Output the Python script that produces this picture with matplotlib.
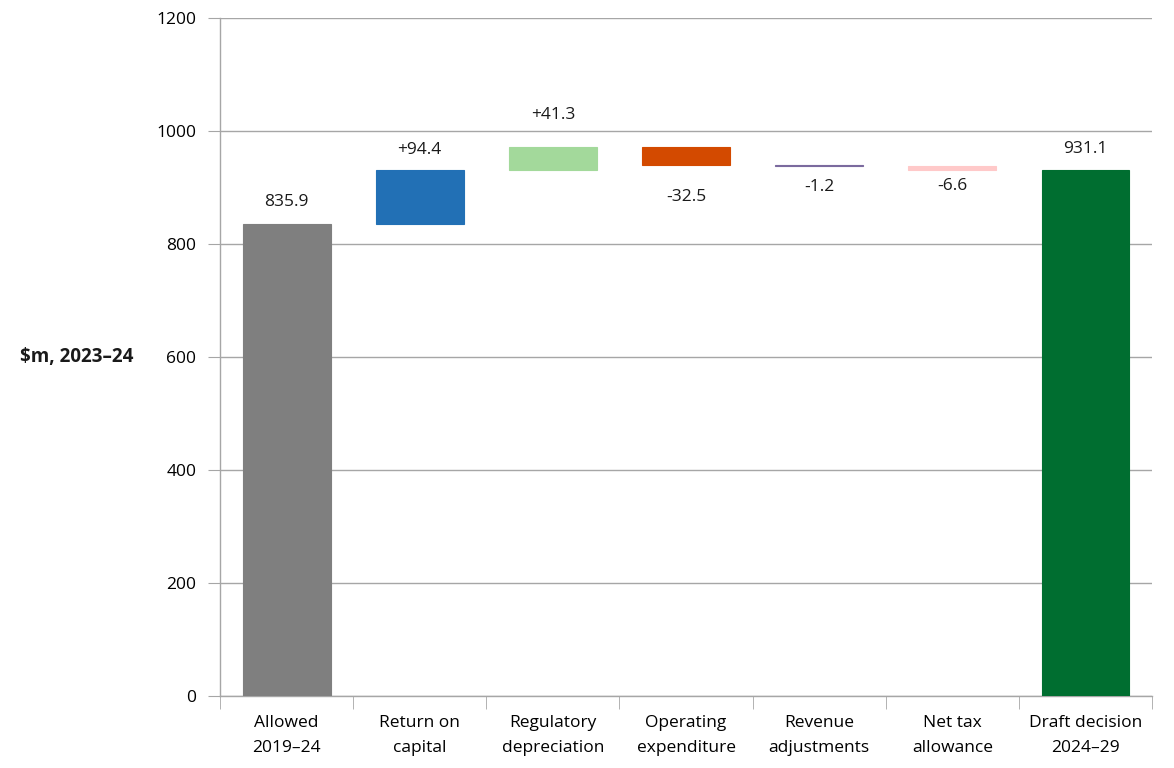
import numpy as np
import matplotlib
matplotlib.use("Agg")
import matplotlib.pyplot as plt

# Waterfall data ($m, 2023-24)
categories = ["Allowed\n2019–24", "Return on\ncapital", "Regulatory\ndepreciation",
              "Operating\nexpenditure", "Revenue\nadjustments", "Net tax\nallowance",
              "Draft decision\n2024–29"]
start_value = 835.9
changes = [94.4, 41.3, -32.5, -1.2, -6.6]
end_value = 931.1
labels = ["835.9", "+94.4", "+41.3", "-32.5", "-1.2", "-6.6", "931.1"]
colors = ["#7f7f7f", "#2270b5", "#a3d99b", "#d34a00", "#7b6a9e", "#ffc9c9", "#006e30"]
# label offsets in points (roughly as placed in the original)
label_offsets = [10, 9, 17, -17, -9, -6, 9]

plt.rcParams["font.family"] = ["Open Sans", "DejaVu Sans"]

# Build bottoms and heights for the floating bars
bottoms = [0]
heights = [start_value]
running = start_value
for c in changes:
    bottoms.append(running + min(c, 0))
    heights.append(abs(c))
    running += c
bottoms.append(0)
heights.append(end_value)
signs = [1] + [1 if c >= 0 else -1 for c in changes] + [1]

fig = plt.figure(figsize=(11.74, 7.68), dpi=100)
ax = fig.add_axes([0.1874, 0.09375, 0.7939, 0.8829])

x = np.arange(len(categories))
ax.bar(x, heights, bottom=bottoms, width=0.66, color=colors, edgecolor=colors,
       linewidth=0.8, zorder=3)

# Value labels: above for rises and totals, below for falls
for i in range(len(x)):
    if signs[i] > 0:
        y = bottoms[i] + heights[i]
        va = "bottom"
    else:
        y = bottoms[i]
        va = "top"
    ax.annotate(labels[i], (x[i], y), xytext=(0, label_offsets[i]), textcoords="offset points",
                ha="center", va=va, fontsize=12.5, color="#1a1a1a")

ax.set_xlim(-0.5, len(categories) - 0.5)
ax.set_ylim(0, 1200)
ax.set_yticks(np.arange(0, 1201, 200))
ax.yaxis.grid(True, color="#a6a6a6", linewidth=1.0, zorder=0)
ax.set_axisbelow(True)

ax.set_xticks(x)
ax.set_xticklabels(categories, fontsize=12.5, linespacing=1.75)
ax.set_xticks(np.arange(-0.5, len(categories), 1), minor=True)
ax.tick_params(axis="x", which="major", length=0, pad=14)
ax.tick_params(axis="x", which="minor", length=9, color="#a6a6a6", direction="out")
ax.tick_params(axis="y", length=9, color="#a6a6a6", direction="out", labelsize=12.5, pad=8)

for side in ["top", "right"]:
    ax.spines[side].set_visible(False)
for side in ["left", "bottom"]:
    ax.spines[side].set_color("#a6a6a6")
    ax.spines[side].set_linewidth(1.0)

fig.text(0.017, 0.535, "$m, 2023–24", fontsize=13.5, fontweight="bold",
         ha="left", va="center", color="#1a1a1a")

fig.savefig("out.png", dpi=100)
